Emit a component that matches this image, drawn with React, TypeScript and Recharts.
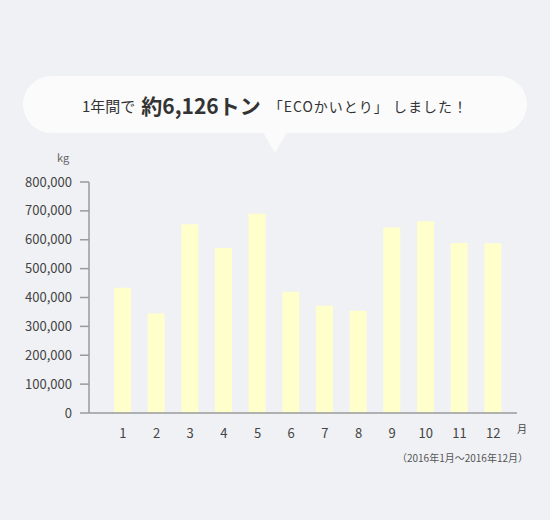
import React from "react";
import { BarChart, Bar, XAxis, YAxis } from "recharts";

const months = ["1", "2", "3", "4", "5", "6", "7", "8", "9", "10", "11", "12"];
const amounts = [434000, 345000, 654000, 571000, 690000, 420000, 371000, 354000, 642000, 664000, 589000, 588000];
const yTicks = [0, 100000, 200000, 300000, 400000, 500000, 600000, 700000, 800000];

const data = months.map((m, i) => ({ month: m, kg: amounts[i] }));

const FONT = '"Noto Sans CJK JP", "Noto Sans", sans-serif';
const BG = "#f0f1f5";
const AXIS = "#9a9a9a";

const fmt = (v: number) => v.toLocaleString("en-US");

const App: React.FC = () => {
  return (
    <div
      style={{
        position: "fixed", left: 0, top: 0, width: 550, height: 520,
        background: BG, fontFamily: FONT, color: "#333", overflow: "hidden",
      }}
    >
      {/* speech bubble */}
      <div
        style={{
          position: "absolute", left: 23, top: 76, width: 504, height: 57,
          borderRadius: 29, background: "#fbfbfc",
          display: "flex", alignItems: "center", justifyContent: "center",
          whiteSpace: "nowrap",
        }}
      >
        <span style={{ fontSize: 15, marginRight: 6, position: "relative", top: 1 }}>1年間で</span>
        <span style={{ fontSize: 21, fontWeight: 700, marginRight: 8 }}>約6,126トン</span>
        <span style={{ fontSize: 14, letterSpacing: 1, position: "relative", top: 1 }}>「ECOかいとり」 しました！</span>
      </div>
      <div
        style={{
          position: "absolute", left: 263, top: 132, width: 0, height: 0,
          borderLeft: "12px solid transparent", borderRight: "12px solid transparent",
          borderTop: "21px solid #fbfbfc",
        }}
      />

      <div style={{ position: "absolute", left: 57, top: 149, fontSize: 11, color: "#666" }}>kg</div>
      <div style={{ position: "absolute", left: 517, top: 421, fontSize: 10, color: "#444" }}>月</div>
      <div style={{ position: "absolute", right: 22, top: 450, fontSize: 10, color: "#555" }}>
        （2016年1月〜2016年12月）
      </div>

      <div style={{ position: "absolute", left: 0, top: 0 }}>
        <BarChart width={550} height={520} data={data} margin={{ top: 182, right: 33, bottom: 77, left: 0 }}>
          <XAxis
            dataKey="month"
            height={30}
            padding={{ left: 17, right: 7 }}
            tickLine={false}
            tickMargin={10}
            axisLine={{ stroke: AXIS, strokeWidth: 1.5 }}
            tick={{ fill: "#444", fontSize: 13 }}
            interval={0}
          />
          <YAxis
            width={89}
            domain={[0, 800000]}
            ticks={yTicks}
            tickFormatter={fmt}
            tickSize={9}
            tickMargin={8}
            tickLine={{ stroke: AXIS, strokeWidth: 1.5 }}
            axisLine={{ stroke: AXIS, strokeWidth: 1.5 }}
            tick={{ fill: "#444", fontSize: 13 }}
          />
          <Bar dataKey="kg" fill="#ffffcc" barSize={17} isAnimationActive={false} />
        </BarChart>
      </div>
    </div>
  );
};

export default App;
